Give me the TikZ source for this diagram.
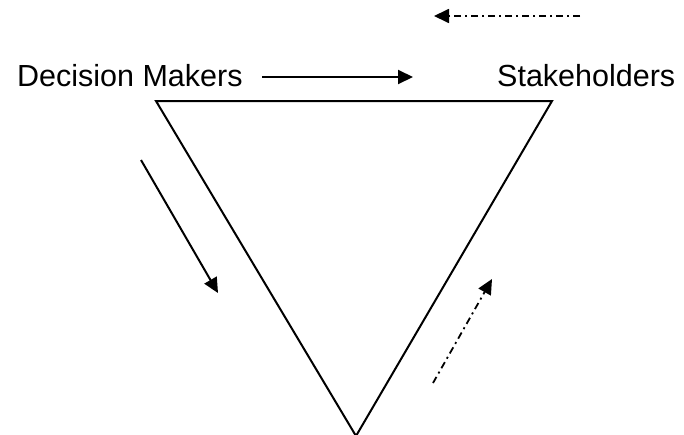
\documentclass[tikz,border=0pt]{standalone}
\usepackage{fontspec}
\setmainfont{Liberation Sans}
\usetikzlibrary{arrows.meta}
\begin{document}
\begin{tikzpicture}[x=1pt,y=-1pt,
  edge/.style={line width=2pt,line join=miter},
  flow/.style={line width=2pt,-{Triangle[length=15pt,width=14pt]}},
  flowdd/.style={line width=1.8pt,dash pattern=on 7pt off 4pt on 2pt off 4pt,-{Triangle[length=15pt,width=14pt]}},
  label/.style={font=\fontsize{30.5}{36}\selectfont,inner sep=0pt,anchor=base west}]
  \useasboundingbox (0,0) rectangle (684,434);
  % triangle corners
  \coordinate (tl) at (156,101);
  \coordinate (tr) at (552,101);
  \coordinate (bt) at (356,436);
  \draw[edge] (tl) -- (tr) -- (bt) -- cycle;
  % labels
  \node[label] (dm) at (17,86) {Decision Makers};
  \node[label] (sh) at (497,86) {Stakeholders};
  % flow arrows
  \coordinate (a1s) at (262,77);
  \coordinate (a1e) at (413,77);
  \draw[flow] (a1s) -- (a1e);
  \coordinate (a2s) at (580,16);
  \coordinate (a2e) at (434,16);
  \draw[flowdd] (a2s) -- (a2e);
  \coordinate (a3s) at (141,160);
  \coordinate (a3e) at (218,293);
  \draw[flow] (a3s) -- (a3e);
  \coordinate (a4s) at (433,383);
  \coordinate (a4e) at (492,279);
  \draw[flowdd] (a4s) -- (a4e);
\end{tikzpicture}
\end{document}
